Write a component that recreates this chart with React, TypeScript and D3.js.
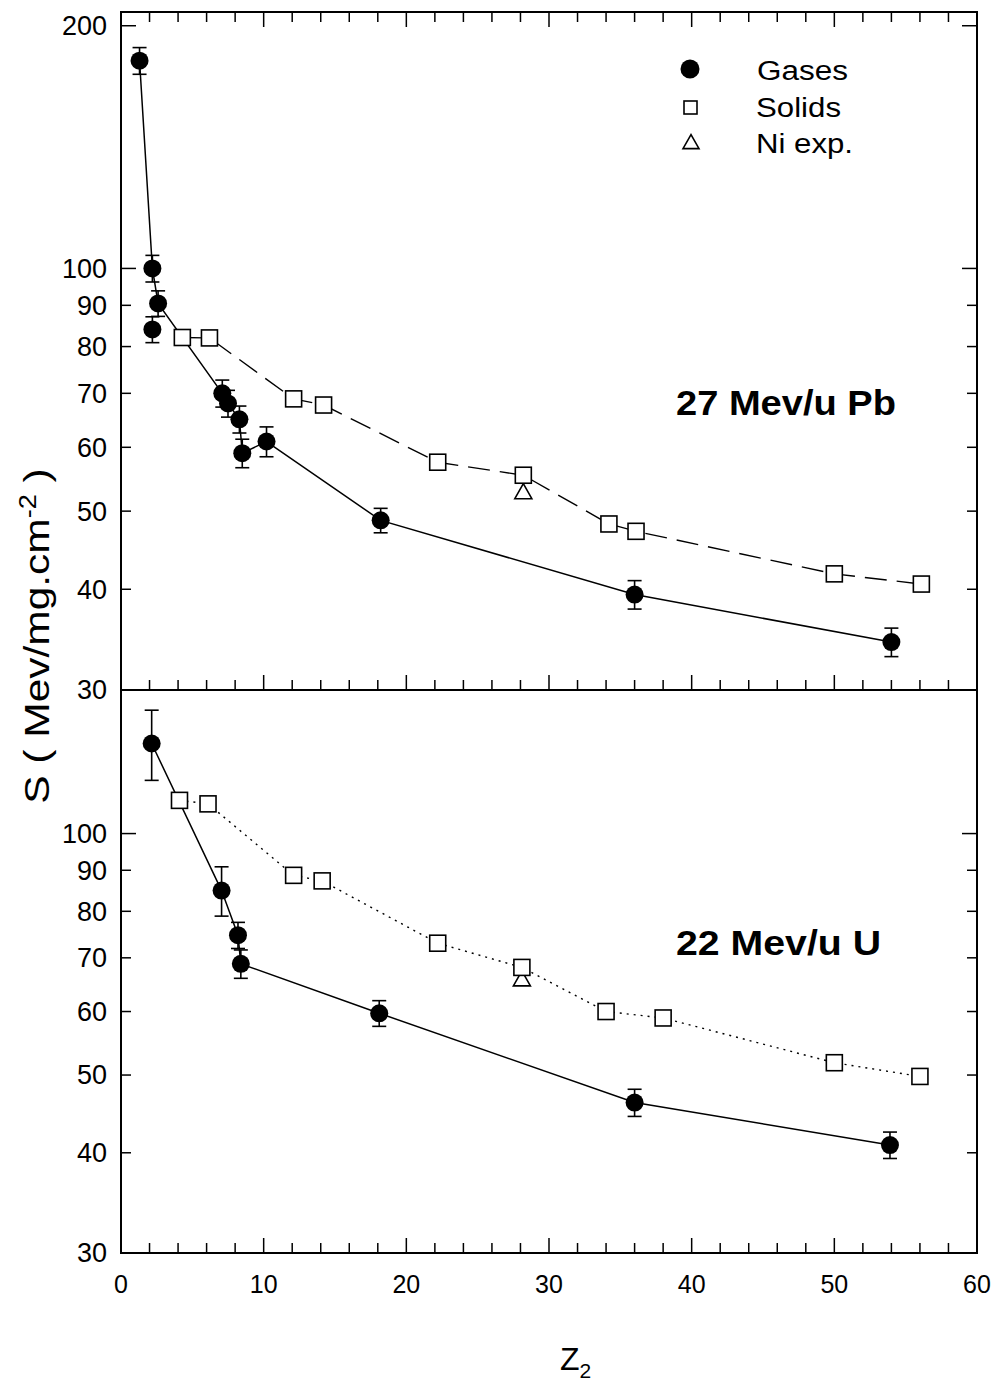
import React from "react";
import * as d3 from "d3";

// ---------- data ----------
// Top panel: 27 MeV/u Pb
const pbGasZ = [1.3, 2.2, 2.2, 2.6, 7.1, 7.5, 8.3, 8.5, 10.2, 18.2, 36, 54];
const pbGasS = [181, 100, 84, 90.5, 70, 68, 65, 59, 61, 48.7, 39.4, 34.4];
const pbGasErr = [6.9, 3.8, 3.1, 3.3, 2.7, 2.6, 2.5, 2.4, 2.6, 1.7, 1.6, 1.4];
const pbGasOnLine = [true, true, false, true, true, true, true, true, true, true, true, true];
const pbSolidZ = [4.3, 6.2, 12.1, 14.2, 22.2, 28.2, 34.2, 36.1, 50, 56.1];
const pbSolidS = [82.1, 82, 68.9, 67.7, 57.5, 55.4, 48.2, 47.2, 41.8, 40.6];
const pbNiZ = [28.2];
const pbNiS = [52.7];

// Bottom panel: 22 MeV/u U
const uGasZ = [2.15, 7.05, 8.2, 8.4, 18.1, 36, 53.9];
const uGasS = [129.5, 84.9, 74.7, 68.8, 59.7, 46.2, 40.9];
const uGasErr = [13, 6, 2.8, 2.8, 2.2, 1.8, 1.55];
const uSolidZ = [4.1, 6.1, 12.1, 14.1, 22.2, 28.1, 34, 38, 50, 56];
const uSolidS = [110, 108.9, 88.7, 87.3, 73, 68.1, 60, 58.9, 51.8, 49.8];
const uNiZ = [28.1];
const uNiS = [65.7];

const xTicks = d3.range(0, 61, 2);
const xLabels = [0, 10, 20, 30, 40, 50, 60];
const topYTicks = [30, 40, 50, 60, 70, 80, 90, 100, 200];
const botYTicks = [30, 40, 50, 60, 70, 80, 90, 100];

// ---------- layout ----------
const W = 995, H = 1385;
const L = 121, R = 977;
const topT = 12, mid = 690, botB = 1253;

const x = d3.scaleLinear().domain([0, 60]).range([L, R]);
const yTop = d3.scaleLog().domain([30, 208]).range([mid, topT]);
const yBot = d3.scaleLog().domain([30, 151]).range([botB, mid]);

const FONT = "Liberation Sans, Arial, Helvetica, sans-serif";

function Circle({ cx, cy, r = 9 }: any) {
  return <circle cx={cx} cy={cy} r={r} fill="#000" />;
}
function Square({ cx, cy, s = 16 }: any) {
  return <rect x={cx - s / 2} y={cy - s / 2} width={s} height={s} fill="#fff" stroke="#000" strokeWidth={1.6} />;
}
function Tri({ cx, cy, w = 17, h = 15 }: any) {
  const p = `${cx},${cy - h * 0.6} ${cx - w / 2},${cy + h * 0.4} ${cx + w / 2},${cy + h * 0.4}`;
  return <polygon points={p} fill="#fff" stroke="#000" strokeWidth={1.6} />;
}

function ErrBar({ cx, y, v, e }: any) {
  const y1 = y(v + e), y2 = y(v - e);
  const c = 7;
  return (
    <g stroke="#000" strokeWidth={1.6}>
      <line x1={cx} x2={cx} y1={y1} y2={y2} />
      <line x1={cx - c} x2={cx + c} y1={y1} y2={y1} />
      <line x1={cx - c} x2={cx + c} y1={y2} y2={y2} />
    </g>
  );
}

function Panel({ y, yTicks, gasZ, gasS, gasErr, gasOnLine, solidZ, solidS, niZ, niS, solidDash, label, labelY, labelLen, top, bottom, showTopX }: any) {
  const line = d3.line<[number, number]>().x((d) => x(d[0])).y((d) => y(d[1]));
  const gasPts: [number, number][] = gasZ
    .map((z: number, i: number) => [z, gasS[i], i] as any)
    .filter((d: any) => (gasOnLine ? gasOnLine[d[2]] : true))
    .map((d: any) => [d[0], d[1]]);
  const solidPts: [number, number][] = solidZ.map((z: number, i: number) => [z, solidS[i]]);
  return (
    <g>
      {yTicks.map((t: number) => {
        const major = t === 100 || t === 200;
        const len = major ? 15 : 10;
        return (
          <g key={t}>
            <line x1={L} x2={L + len} y1={y(t)} y2={y(t)} stroke="#000" strokeWidth={1.5} />
            <line x1={R} x2={R - len} y1={y(t)} y2={y(t)} stroke="#000" strokeWidth={1.5} />
            <text x={107} y={y(t)} dy="0.35em" textAnchor="end" fontSize={27} fontFamily={FONT}>
              {t}
            </text>
          </g>
        );
      })}
      {xTicks.map((t: number) => {
        const len = t % 10 === 0 ? 15 : 10;
        return (
          <g key={t} stroke="#000" strokeWidth={1.5}>
            {showTopX ? <line x1={x(t)} x2={x(t)} y1={top} y2={top + len} /> : null}
            <line x1={x(t)} x2={x(t)} y1={bottom} y2={bottom - len} />
          </g>
        );
      })}
      <path d={line(solidPts) || ""} fill="none" stroke="#000" strokeWidth={1.4} strokeDasharray={solidDash} />
      <path d={line(gasPts) || ""} fill="none" stroke="#000" strokeWidth={1.5} />
      {gasZ.map((z: number, i: number) => (
        <ErrBar key={"e" + i} cx={x(z)} y={y} v={gasS[i]} e={gasErr[i]} />
      ))}
      {niZ.map((z: number, i: number) => (
        <Tri key={"t" + i} cx={x(z)} cy={y(niS[i])} />
      ))}
      {solidZ.map((z: number, i: number) => (
        <Square key={"s" + i} cx={x(z)} cy={y(solidS[i])} />
      ))}
      {gasZ.map((z: number, i: number) => (
        <Circle key={"c" + i} cx={x(z)} cy={y(gasS[i])} />
      ))}
      <text x={676} y={labelY} fontSize={35} fontWeight="bold" fontFamily={FONT} textLength={labelLen} lengthAdjust="spacingAndGlyphs">
        {label}
      </text>
    </g>
  );
}

export default function App() {
  return (
    <svg width={W} height={H} style={{ position: "absolute", left: 0, top: 0, background: "#fff" }}>
      <rect x={0} y={0} width={W} height={H} fill="#fff" />
      <Panel
        y={yTop}
        yTicks={topYTicks}
        gasZ={pbGasZ}
        gasS={pbGasS}
        gasErr={pbGasErr}
        gasOnLine={pbGasOnLine}
        solidZ={pbSolidZ}
        solidS={pbSolidS}
        niZ={pbNiZ}
        niS={pbNiS}
        solidDash="22,10"
        label="27 Mev/u Pb"
        labelY={415}
        labelLen={220}
        top={topT}
        bottom={mid}
        showTopX={true}
      />
      <Panel
        y={yBot}
        yTicks={botYTicks}
        gasZ={uGasZ}
        gasS={uGasS}
        gasErr={uGasErr}
        gasOnLine={null}
        solidZ={uSolidZ}
        solidS={uSolidS}
        niZ={uNiZ}
        niS={uNiS}
        solidDash="2,5"
        label="22 Mev/u U"
        labelY={955}
        labelLen={205}
        top={mid}
        bottom={botB}
        showTopX={false}
      />
      <rect x={L} y={topT} width={R - L} height={botB - topT} fill="none" stroke="#000" strokeWidth={2} />
      <line x1={L} x2={R} y1={mid} y2={mid} stroke="#000" strokeWidth={2} />
      {xLabels.map((t) => (
        <text key={t} x={x(t)} y={1293} textAnchor="middle" fontSize={25} fontFamily={FONT}>
          {t}
        </text>
      ))}
      <text x={560} y={1370} fontSize={32} fontFamily={FONT}>
        Z<tspan fontSize={21} dy={8}>2</tspan>
      </text>
      <text
        transform="translate(49,636) rotate(-90) scale(1.18,1)"
        textAnchor="middle"
        fontSize={36}
        fontFamily={FONT}
      >
        S ( Mev/mg.cm<tspan fontSize={23} dy={-13}>-2</tspan>
        <tspan dy={13}> )</tspan>
      </text>
      <circle cx={690} cy={69} r={9.5} fill="#000" />
      <rect x={684} y={101} width={13} height={13} fill="#fff" stroke="#000" strokeWidth={1.6} />
      <Tri cx={691} cy={143} w={16} h={14} />
      <text x={757} y={80} fontSize={27} fontFamily={FONT} textLength={91} lengthAdjust="spacingAndGlyphs">Gases</text>
      <text x={756} y={117} fontSize={27} fontFamily={FONT} textLength={85} lengthAdjust="spacingAndGlyphs">Solids</text>
      <text x={756} y={153} fontSize={27} fontFamily={FONT} textLength={97} lengthAdjust="spacingAndGlyphs">Ni exp.</text>
    </svg>
  );
}
